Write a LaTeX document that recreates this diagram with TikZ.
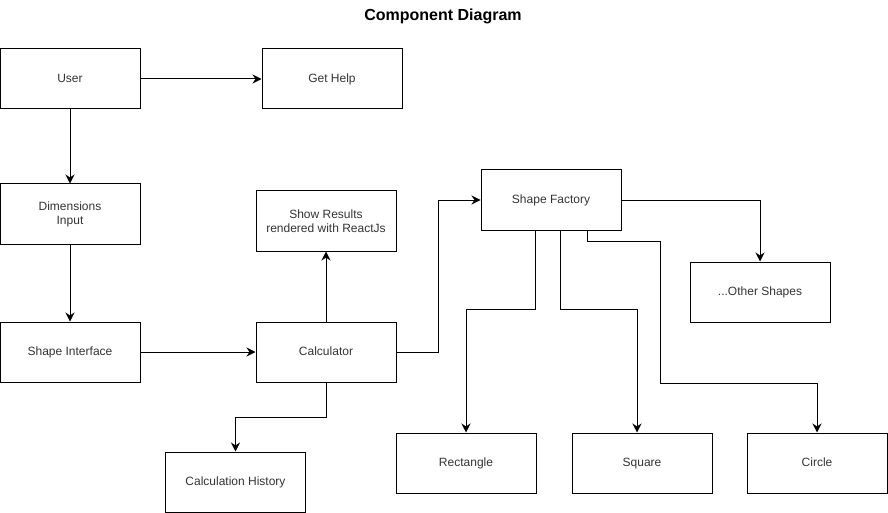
\documentclass[tikz,border=0pt]{standalone}
\usepackage{fontspec}
\setmainfont{Liberation Sans}
\usetikzlibrary{arrows.meta}
\definecolor{txt}{HTML}{333333}
\tikzset{
  box/.style={draw=black, line width=1pt, minimum width=140pt, minimum height=60pt, inner sep=0pt, align=center, text=txt, font=\fontsize{12}{14}\selectfont},
  oneline/.style={box, text height=10pt, text depth=2.5pt},
  conn/.style={draw=black, line width=1pt, -{Stealth[length=9pt,width=9pt,inset=3pt]}}
}
\begin{document}
\begin{tikzpicture}[x=1pt,y=-1pt]
\useasboundingbox (0,0) rectangle (888,513);
\node[font=\bfseries\fontsize{16}{19}\selectfont] (title) at (443,16) {Component Diagram};
\node[oneline] (user) at (70,79) {User};
\node[oneline] (help) at (332,79) {Get Help};
\node[box] (dim) at (70,214) {Dimensions\\Input};
\node[oneline] (iface) at (70,352) {Shape Interface};
\node[oneline] (calc) at (326,352) {Calculator};
\node[box] (show) at (326,221) {Show Results\\rendered with ReactJs};
\node[oneline] (factory) at (551,200) {Shape Factory};
\node[oneline] (other) at (760,292) {...Other Shapes};
\node[oneline] (rect) at (466,463) {Rectangle};
\node[oneline] (square) at (642,463) {Square};
\node[oneline] (circle) at (817,463) {Circle};
\node[oneline] (hist) at (235.5,482) {Calculation History};

\draw[conn] (user) -- (help);
\draw[conn] (user) -- (dim);
\draw[conn] (dim) -- (iface);
\draw[conn] (iface) -- (calc);
\draw[conn] (calc) -- (show);
\draw[conn] (calc.east) -- ++(42,0) |- (factory.west);
\draw[conn] (calc.south) -- ++(0,35) -| (hist.north);
\draw[conn] (factory.east) -| (other.north);
\draw[conn] ([xshift=-16pt]factory.south) -- ++(0,79) -| (rect.north);
\draw[conn] ([xshift=9pt]factory.south) -- ++(0,79) -| ([xshift=-5pt]square.north);
\draw[conn] ([xshift=36pt]factory.south) -- ++(0,11) -| (660,383) -| (circle.north);
\end{tikzpicture}
\end{document}
